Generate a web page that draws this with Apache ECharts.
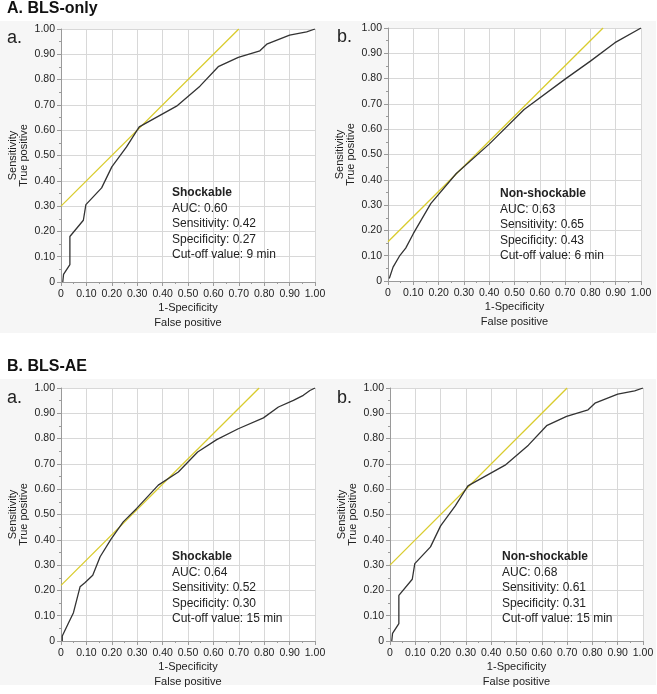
<!DOCTYPE html>
<html><head><meta charset="utf-8">
<script src="https://cdn.jsdelivr.net/npm/echarts@6/dist/echarts.min.js"></script>
<style>html,body{margin:0;padding:0;background:#fff}#c{width:657px;height:694px}</style>
</head><body><div id="c"></div>
<script>
// Panel A.a  BLS-only, Shockable
const aShockX = [0.007,0.01,0.035,0.035,0.088,0.098,0.16,0.20,0.258,0.308,0.455,0.547,0.619,0.698,0.783,0.81,0.90,0.967,1.0];
const aShockY = [0,0.03,0.069,0.18,0.244,0.306,0.372,0.455,0.534,0.613,0.695,0.774,0.851,0.888,0.914,0.94,0.976,0.989,1.0];
const aShockRef = [[0,0.30],[0.70,1.0]];
// Panel A.b  BLS-only, Non-shockable
const aNonX = [0.005,0.02,0.045,0.07,0.10,0.169,0.27,0.40,0.538,0.70,0.80,0.897,1.0];
const aNonY = [0.01,0.055,0.098,0.13,0.187,0.306,0.425,0.541,0.678,0.798,0.869,0.942,1.0];
const aNonRef = [[0,0.155],[0.85,1.0]];
// Panel B.a  BLS-AE, Shockable
const bShockX = [0.005,0.005,0.029,0.049,0.075,0.094,0.125,0.154,0.197,0.245,0.298,0.383,0.462,0.538,0.613,0.698,0.797,0.856,0.915,0.954,0.98,1.0];
const bShockY = [0,0.02,0.07,0.112,0.214,0.23,0.26,0.333,0.403,0.471,0.524,0.616,0.668,0.747,0.796,0.839,0.882,0.925,0.951,0.971,0.99,1.0];
const bShockRef = [[0,0.22],[0.78,1.0]];
// Panel B.b  BLS-AE, Non-shockable
const bNonX = [0.007,0.01,0.035,0.035,0.088,0.098,0.16,0.20,0.258,0.308,0.455,0.547,0.619,0.698,0.783,0.81,0.90,0.967,1.0];
const bNonY = [0,0.03,0.069,0.18,0.244,0.306,0.372,0.455,0.534,0.613,0.695,0.774,0.851,0.888,0.914,0.94,0.976,0.989,1.0];
const bNonRef = [[0,0.30],[0.70,1.0]];

const annA_a = ['Shockable','AUC: 0.60','Sensitivity: 0.42','Specificity: 0.27','Cut-off value: 9 min'];
const annA_b = ['Non-shockable','AUC: 0.63','Sensitivity: 0.65','Specificity: 0.43','Cut-off value: 6 min'];
const annB_a = ['Shockable','AUC: 0.64','Sensitivity: 0.52','Specificity: 0.30','Cut-off value: 15 min'];
const annB_b = ['Non-shockable','AUC: 0.68','Sensitivity: 0.61','Specificity: 0.31','Cut-off value: 15 min'];

const xName = '1-Specificity\nFalse positive';
const yName = 'Sensitivity\nTrue positive';

const FONT = '"Liberation Sans", Arial, sans-serif';
const zip = (xs, ys) => xs.map((x, i) => [x, ys[i]]);
const fmt = v => v === 0 ? '0' : v.toFixed(2);

const grids = [
  {left: 61, top: 29, width: 254, height: 253},
  {left: 388, top: 28, width: 253, height: 253},
  {left: 61, top: 388, width: 254, height: 253},
  {left: 390, top: 388, width: 253, height: 253}
].map(g => Object.assign(g, {show: true, backgroundColor: '#fff', borderWidth: 0}));

function axisCommon() {
  return {
    type: 'value', min: 0, max: 1, interval: 0.1,
    axisLine: {show: true, lineStyle: {color: '#9a9a9a', width: 1}},
    axisTick: {show: true, length: 4, lineStyle: {color: '#9a9a9a'}},
    minorTick: {show: true, splitNumber: 2, length: 2, lineStyle: {color: '#9a9a9a'}},
    splitLine: {show: true, lineStyle: {color: '#d8d8d8', width: 1}},
    axisLabel: {formatter: fmt, color: '#222', fontSize: 10.5, fontFamily: FONT},
    nameLocation: 'middle',
    nameTextStyle: {color: '#222', fontSize: 11, fontFamily: FONT}
  };
}
const xAxes = [0,1,2,3].map(i => Object.assign(axisCommon(), {
  gridIndex: i, name: xName, nameGap: 16,
  axisLabel: {formatter: fmt, color: '#222', fontSize: 10.5, fontFamily: FONT, margin: 7},
  nameTextStyle: {color: '#222', fontSize: 11, fontFamily: FONT, lineHeight: 14.5, verticalAlign: 'top'}
}));
const yAxes = [0,1,2,3].map(i => Object.assign(axisCommon(), {
  gridIndex: i, name: yName, nameGap: 31,
  axisLabel: {formatter: fmt, color: '#222', fontSize: 10.5, fontFamily: FONT, margin: 6},
  nameTextStyle: {color: '#222', fontSize: 11, fontFamily: FONT, lineHeight: 11.6}
}));

function roc(i, xs, ys) {
  return {type: 'line', xAxisIndex: i, yAxisIndex: i, data: zip(xs, ys), showSymbol: false, symbol: 'none',
    lineStyle: {color: '#333', width: 1.3}, z: 3, animation: false};
}
function ref(i, pts) {
  return {type: 'line', xAxisIndex: i, yAxisIndex: i, data: pts, showSymbol: false, symbol: 'none',
    lineStyle: {color: '#d9cc2e', width: 1.3}, z: 2, animation: false};
}

function annot(x, y, lines) {
  return lines.map((t, k) => ({
    type: 'text', left: x, top: y + k * 15.4 - 7, z: 10,
    style: {text: t, fill: '#222', font: (k === 0 ? 'bold ' : '') + '12px ' + FONT}
  }));
}

const graphic = [
  {type: 'rect', shape: {x: 0, y: 21, width: 656, height: 312}, style: {fill: '#f6f6f6'}, z: -10, silent: true},
  {type: 'rect', shape: {x: 0, y: 379, width: 656, height: 306}, style: {fill: '#f6f6f6'}, z: -10, silent: true},
  {type: 'text', left: 7, top: 1, style: {text: 'A. BLS-only', fill: '#111', font: 'bold 16px ' + FONT}},
  {type: 'text', left: 7, top: 359, style: {text: 'B. BLS-AE', fill: '#111', font: 'bold 16px ' + FONT}},
  {type: 'text', left: 7, top: 29, style: {text: 'a.', fill: '#222', font: '18px ' + FONT}},
  {type: 'text', left: 337, top: 28, style: {text: 'b.', fill: '#222', font: '18px ' + FONT}},
  {type: 'text', left: 7, top: 389, style: {text: 'a.', fill: '#222', font: '18px ' + FONT}},
  {type: 'text', left: 337, top: 389, style: {text: 'b.', fill: '#222', font: '18px ' + FONT}}
].concat(annot(172, 194, annA_a), annot(500, 195, annA_b), annot(172, 558, annB_a), annot(502, 558, annB_b));

const chart = echarts.init(document.getElementById('c'), null, {renderer: 'canvas'});
chart.setOption({
  animation: false,
  backgroundColor: '#fff',
  grid: grids,
  xAxis: xAxes,
  yAxis: yAxes,
  series: [
    ref(0, aShockRef), roc(0, aShockX, aShockY),
    ref(1, aNonRef), roc(1, aNonX, aNonY),
    ref(2, bShockRef), roc(2, bShockX, bShockY),
    ref(3, bNonRef), roc(3, bNonX, bNonY)
  ],
  graphic: graphic
});
</script></body></html>
